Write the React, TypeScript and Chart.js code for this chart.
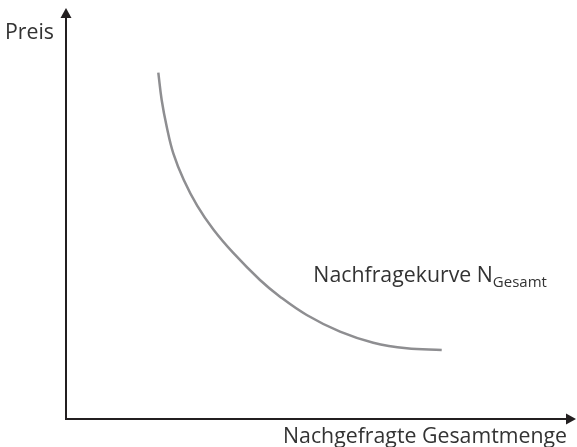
import { useEffect, useRef } from "react";
import { Chart, registerables } from "chart.js";

Chart.register(...registerables);

const quantity = [18.1, 18.76, 19.75, 21.04, 23.1, 25.75, 28.9, 32.8, 38.04, 41.96, 47.2, 53.73, 60.25, 66.8, 73.67];
const price = [84.26, 77.62, 71.12, 64.65, 58.15, 51.85, 46.1, 40.4, 33.82, 29.76, 25.3, 21.24, 18.56, 17.2, 16.79];

const yAxisLabel = "Preis";
const xAxisLabel = "Nachgefragte Gesamtmenge";
const curveLabel = "Nachfragekurve N";
const curveLabelSub = "Gesamt";
const curveLabelPos = { x: 48.5, y: 33.3 };

const FONT = '"Open Sans", "Noto Sans", sans-serif';

const axesPlugin = {
  id: "axesArrows",
  afterDraw(chart: any) {
    const { ctx, chartArea } = chart;
    const { left, right, top, bottom } = chartArea;
    const xs = chart.scales.x;
    const ys = chart.scales.y;
    ctx.save();
    ctx.strokeStyle = "#231f20";
    ctx.fillStyle = "#231f20";
    ctx.lineWidth = 2;
    ctx.lineCap = "butt";
    // y axis
    ctx.beginPath();
    ctx.moveTo(left, bottom + 1);
    ctx.lineTo(left, top + 8);
    ctx.stroke();
    ctx.beginPath();
    ctx.moveTo(left, top);
    ctx.lineTo(left - 5.5, top + 10);
    ctx.lineTo(left + 5.5, top + 10);
    ctx.closePath();
    ctx.fill();
    // x axis
    ctx.beginPath();
    ctx.moveTo(left - 1, bottom);
    ctx.lineTo(right - 8, bottom);
    ctx.stroke();
    ctx.beginPath();
    ctx.moveTo(right, bottom);
    ctx.lineTo(right - 10, bottom - 5.5);
    ctx.lineTo(right - 10, bottom + 5.5);
    ctx.closePath();
    ctx.fill();

    ctx.fillStyle = "#333333";
    ctx.font = `21.3px ${FONT}`;
    ctx.textBaseline = "alphabetic";
    ctx.textAlign = "right";
    ctx.fillText(yAxisLabel, left - 12, 39);
    ctx.fillText(xAxisLabel, right - 9, 443);

    ctx.textAlign = "left";
    const lx = xs.getPixelForValue(curveLabelPos.x);
    const ly = ys.getPixelForValue(curveLabelPos.y);
    ctx.fillText(curveLabel, lx, ly);
    const w = ctx.measureText(curveLabel).width;
    ctx.font = `15px ${FONT}`;
    ctx.fillText(curveLabelSub, lx + w, ly + 5);
    ctx.restore();
  },
};

export default function App() {
  const ref = useRef<HTMLCanvasElement | null>(null);
  useEffect(() => {
    document.body.style.margin = "0";
    const chart = new Chart(ref.current as HTMLCanvasElement, {
      type: "line",
      data: {
        datasets: [
          {
            data: quantity.map((q, i) => ({ x: q, y: price[i] })),
            borderColor: "#8e8e91",
            borderWidth: 2.5,
            pointRadius: 0,
            tension: 0.4,
            fill: false,
          },
        ],
      },
      options: {
        animation: false,
        responsive: false,
        events: [],
        layout: { padding: { left: 66, right: 1, top: 8, bottom: 28 } },
        plugins: { legend: { display: false }, tooltip: { enabled: false } },
        scales: {
          x: { type: "linear", min: 0, max: 100, display: false },
          y: { type: "linear", min: 0, max: 100, display: false },
        },
      },
      plugins: [axesPlugin],
    } as any);
    return () => chart.destroy();
  }, []);
  return (
    <div style={{ position: "relative", width: 577, height: 447, background: "#fff" }}>
      <canvas ref={ref} width={577} height={447} style={{ display: "block" }} />
    </div>
  );
}
